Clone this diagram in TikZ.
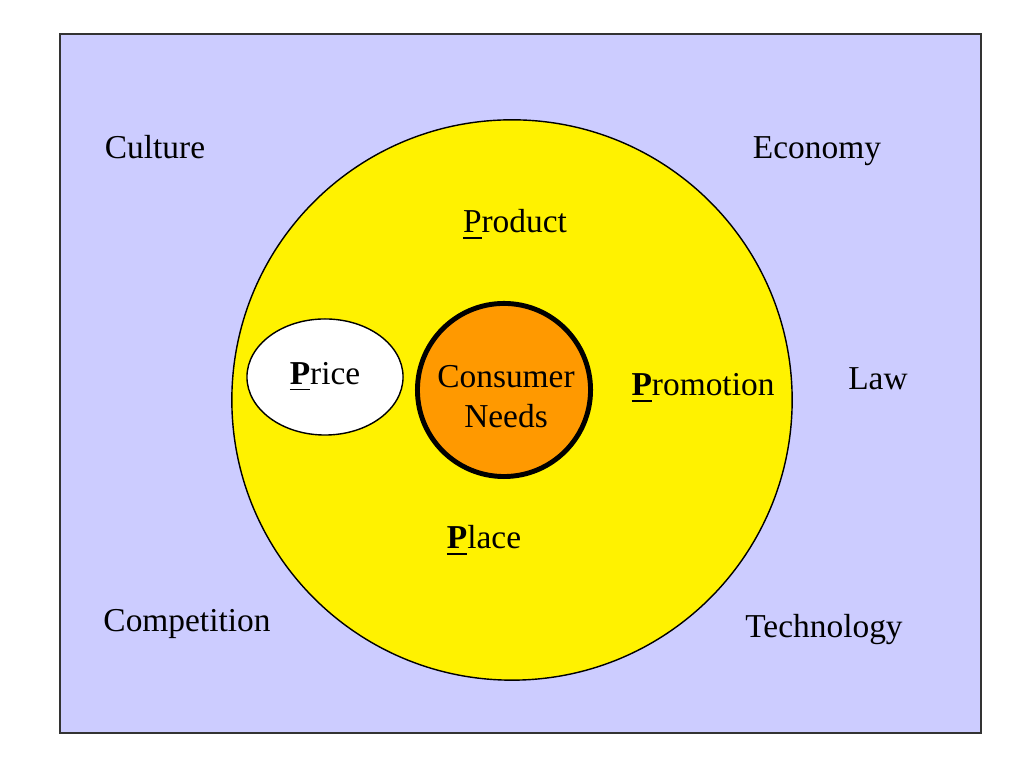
\documentclass[tikz,border=0pt]{standalone}
\usepackage{fontspec}
\setmainfont{Liberation Serif}
\usetikzlibrary{shapes.geometric}
\definecolor{envblue}{HTML}{CCCCFF}
\definecolor{needsorange}{HTML}{FF9900}
\newcommand{\firstP}{\underline{\textbf{P}}}
\begin{document}
\begin{tikzpicture}[x=0.01cm,y=-0.01cm,%
      every node/.style={anchor=base,inner sep=1.5pt,outer sep=0pt,
        font=\fontsize{9.5}{11.4}\selectfont},
      blob/.style={anchor=center,inner sep=0pt,minimum size=0pt}]
      \useasboundingbox (0,0) rectangle (1024,768);
      \draw[draw=black!80,fill=envblue] (60,34) rectangle (981,733);
      % the four Ps
      \node[blob,circle,draw,fill=yellow,minimum size=5.6cm] (mix) at (512,400) {};
      \node[blob,ellipse,draw,fill=white,minimum width=1.56cm,minimum height=1.16cm]
      (price) at (325,377) {\firstP rice};
      \node[blob,circle,draw,line width=1.4pt,fill=needsorange,minimum size=1.73cm]
      (needs) at (504,390) {};
      \node[blob,align=center] at(506,397)(needstext){Consumer\\Needs};
      \node at(515,233)(product){\underline{P}roduct};
      \node at(703,396)(promotion){\firstP romotion};
      \node at(484,549)(place){\firstP lace};
      % environment
      \node at(155,159)(culture){Culture};
      \node at(817,159)(economy){Economy};
      \node at(878,390)(law){Law};
      \node at(187,632)(competition){Competition};
      \node at(824,638)(technology){Technology};
    \end{tikzpicture}
\end{document}
